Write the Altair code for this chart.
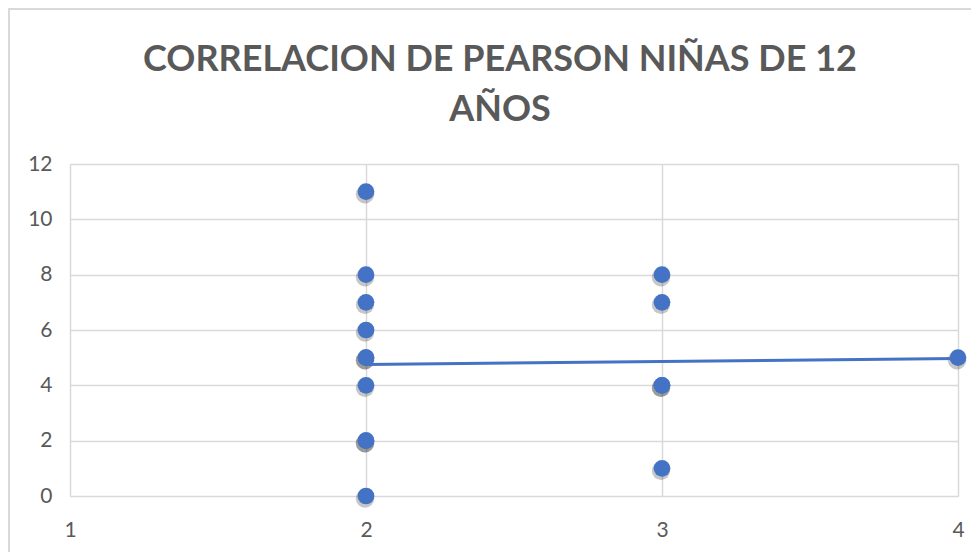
import altair as alt
import pandas as pd

# Data (x = category, y = value); repeated rows are overlapping points
x_vals = [2, 2, 2, 2, 2, 2, 2, 2, 2, 2, 3, 3, 3, 3, 3, 4]
y_vals = [0, 2, 2, 4, 5, 5, 6, 7, 8, 11, 1, 4, 4, 7, 8, 5]

# Linear trendline end points
trend_x = [2, 4]
trend_y = [4.75, 4.97]

x_ticks = [1, 2, 3, 4]
y_ticks = [0, 2, 4, 6, 8, 10, 12]

title_lines = ["CORRELACION DE PEARSON NIÑAS DE 12", "AÑOS"]

pts = pd.DataFrame({"x": x_vals, "y": y_vals})
trend = pd.DataFrame({"x": trend_x, "y": trend_y})

GRID = "#d9d9d9"
TXT = "#595959"
BLUE = "#4472C4"

xs = alt.Scale(domain=[1, 4], nice=False, zero=False)
ys = alt.Scale(domain=[0, 12], nice=False)

x_axis = alt.Axis(values=x_ticks, title=None, domain=False, ticks=False,
                  grid=True, gridColor=GRID, gridWidth=1.5,
                  labelFont="Lato", labelFontSize=21, labelColor=TXT,
                  labelPadding=23, format="d", labelFlush=False)
y_axis = alt.Axis(values=y_ticks, title=None, domain=False, ticks=False,
                  grid=True, gridColor=GRID, gridWidth=1.5,
                  labelFont="Lato", labelFontSize=21, labelColor=TXT,
                  labelPadding=18, format="d", labelFlush=False)

frame = alt.Chart(alt.Data(values=[{}])).mark_rect(
    fill=None, stroke=GRID, strokeWidth=2
).encode(x=alt.value(-61), x2=alt.value(1000), y=alt.value(-155), y2=alt.value(600))

base = alt.Chart(pts)

shadow = base.mark_circle(color="#000000", opacity=0.22, size=340,
                          xOffset=-1, yOffset=2.5).encode(
    x=alt.X("x:Q", scale=xs, axis=x_axis),
    y=alt.Y("y:Q", scale=ys, axis=y_axis),
)

points = base.mark_circle(color=BLUE, opacity=1, size=280).encode(
    x=alt.X("x:Q", scale=xs),
    y=alt.Y("y:Q", scale=ys),
)

line = alt.Chart(trend).mark_line(color=BLUE, strokeWidth=3).encode(
    x=alt.X("x:Q", scale=xs),
    y=alt.Y("y:Q", scale=ys),
)

chart = alt.layer(frame, shadow, line, points).properties(
    width=888,
    height=332,
    padding={"left": 62, "top": 156, "right": 13, "bottom": 56},
    autosize=alt.AutoSizeParams(type="none"),
    title=alt.TitleParams(
        text=title_lines, font="Lato", fontSize=36, fontWeight="bold",
        color=TXT, lineHeight=50, offset=-121, dx=-14, anchor="middle",
    ),
).configure_view(stroke=None).configure(background="white")

chart.save("out.html", embed_options={"renderer": "svg", "actions": False})
